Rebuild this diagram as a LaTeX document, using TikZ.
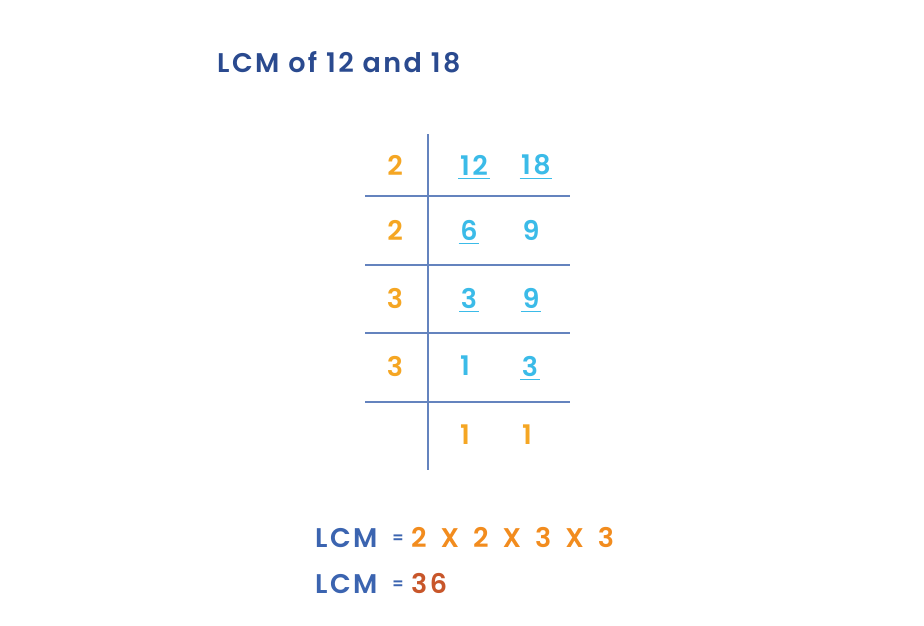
\documentclass[tikz,border=0pt]{standalone}
\usepackage{fontspec}
\setmainfont{Poppins SemiBold}[LetterSpace=9]
\definecolor{titleblue}{HTML}{2A4A8F}
\definecolor{gridblue}{HTML}{6483BE}
\definecolor{divorange}{HTML}{F5A623}
\definecolor{numblue}{HTML}{3BBBE8}
\definecolor{lcmblue}{HTML}{3B64B0}
\definecolor{prodorange}{HTML}{F28C1E}
\definecolor{resred}{HTML}{C8562A}
\begin{document}
\begin{tikzpicture}[x=1pt,y=-1pt,
  big/.style={font=\fontsize{27}{30}\selectfont,inner sep=0pt},
  div/.style={big,text=divorange},
  num/.style={big,text=numblue},
  eqs/.style={font=\fontsize{16}{18}\selectfont,text=lcmblue,inner sep=0pt},
  grid/.style={draw=gridblue,line width=1.4pt},
  ul/.style={draw=numblue,line width=1.3pt}]
\useasboundingbox[fill=white] (0,0) rectangle (924,626);
\node[big,text=titleblue,anchor=base west] (title) at (217,73) {LCM of 12 and 18};
% grid
\coordinate (vt) at (428,134);
\coordinate (vb) at (428,470);
\draw[grid] (vt) -- (vb);
\foreach \y/\n in {196/a,265/b,333/c,402/d}{
  \coordinate (l\n) at (365,\y);
  \coordinate (r\n) at (570,\y);
  \draw[grid] (l\n) -- (r\n);
}
% left divisors
\node[div] (d1) at (395,165) {2};
\node[div] (d2) at (395,230) {2};
\node[div] (d3) at (395,298) {3};
\node[div] (d4) at (395,366) {3};
% numbers
\node[num] (n11) at (474,165) {12};
\node[num] (n12) at (536,165) {18};
\node[num] (n21) at (469,230) {6};
\node[num] (n22) at (531,230) {9};
\node[num] (n31) at (469,298) {3};
\node[num] (n32) at (531,298) {9};
\node[num] (n41) at (465,366) {1};
\node[num] (n42) at (530,366) {3};
\node[div] (n51) at (465,435) {1};
\node[div] (n52) at (527,435) {1};
% underlines
\foreach \n in {n11,n12,n21,n31,n32,n42}{
  \draw[ul] ([xshift=-1.5pt,yshift=-3pt]\n.south west) -- ([xshift=1.5pt,yshift=-3pt]\n.south east);
}
% result
\node[big,text=lcmblue,anchor=base west] (lcm1) at (315,547) {LCM};
\node[eqs] (eq1) at (398,539) {=};
\node[big,text=prodorange,anchor=base west] (prod) at (411,547) {\spaceskip=14pt 2 X 2 X 3 X 3};
\node[big,text=lcmblue,anchor=base west] (lcm2) at (315,593) {LCM};
\node[eqs] (eq2) at (398,585) {=};
\node[big,text=resred,anchor=base west] (res) at (411,593) {36};
\end{tikzpicture}
\end{document}
